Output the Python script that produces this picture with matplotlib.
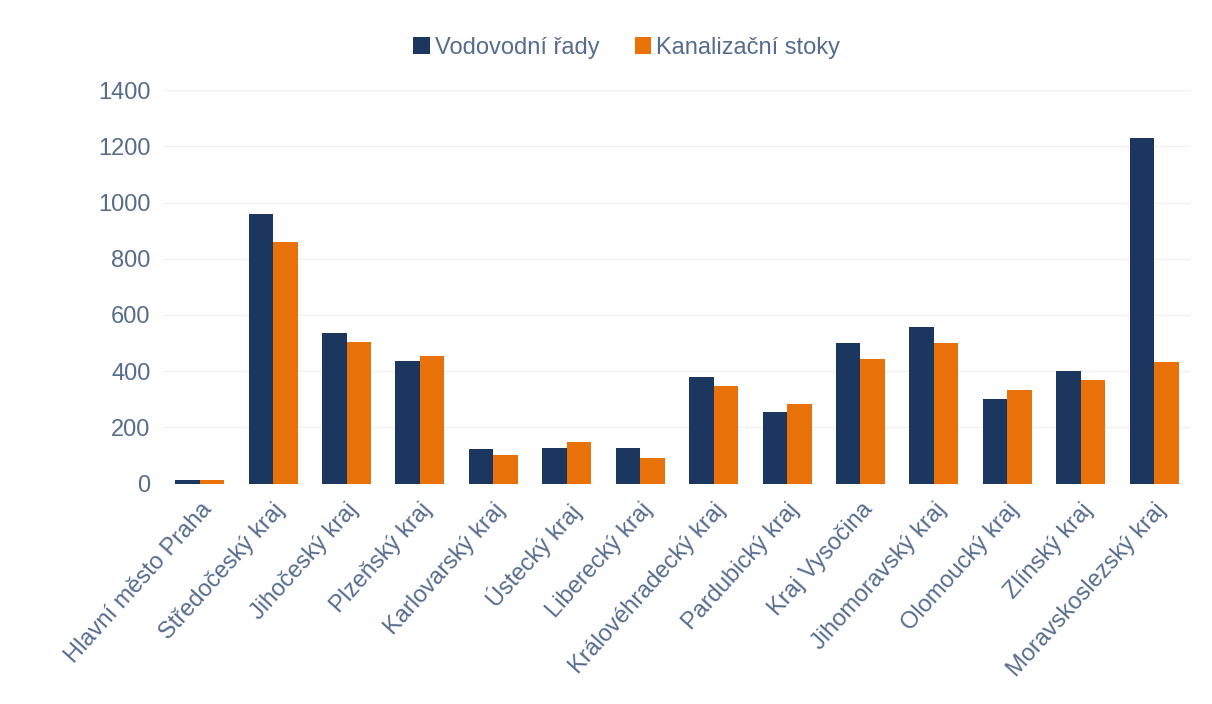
import matplotlib.pyplot as plt
import numpy as np

plt.rcParams['font.family'] = ['Liberation Sans', 'DejaVu Sans']

# Regions of the Czech Republic
regions = ['Hlavní město Praha', 'Středočeský kraj', 'Jihočeský kraj', 'Plzeňský kraj',
           'Karlovarský kraj', 'Ústecký kraj', 'Liberecký kraj', 'Královéhradecký kraj',
           'Pardubický kraj', 'Kraj Vysočina', 'Jihomoravský kraj', 'Olomoucký kraj',
           'Zlínský kraj', 'Moravskoslezský kraj']

# Values
vodovodni = [12, 958, 536, 436, 123, 127, 126, 381, 256, 499, 557, 301, 399, 1228]
kanalizacni = [12, 859, 504, 453, 102, 148, 91, 349, 285, 445, 499, 334, 367, 431]

blue = '#1b365f'
orange = '#e8710a'
text_col = '#556c8d'

fig = plt.figure(figsize=(12.12, 7.04), dpi=100)
ax = fig.add_axes([0.1345, 0.313, 0.848, 0.559])

x = np.arange(len(regions))
w = 0.334
ax.bar(x - w / 2, vodovodni, w, color=blue, label='Vodovodní řady')
ax.bar(x + w / 2, kanalizacni, w, color=orange, label='Kanalizační stoky')

ax.set_xlim(-0.5, len(regions) - 0.5)
ax.set_ylim(0, 1400)
ax.set_yticks(np.arange(0, 1401, 200))
ax.grid(axis='y', color='#f1f1f1', linewidth=1)
ax.set_axisbelow(True)
for s in ax.spines.values():
    s.set_visible(False)

ax.set_xticks(x)
ax.set_xticklabels(regions, rotation=48, ha='right', rotation_mode='anchor')
ax.tick_params(axis='both', length=0, colors=text_col, labelsize=17)
ax.tick_params(axis='y', pad=9)
ax.tick_params(axis='x', pad=11)

fig.legend(loc='center', bbox_to_anchor=(0.517, 0.932), ncol=2, frameon=False,
           fontsize=17, labelcolor=text_col, handlelength=0.7, handleheight=0.7,
           handletextpad=0.2, columnspacing=1.5)

fig.savefig('out.png', dpi=100)
